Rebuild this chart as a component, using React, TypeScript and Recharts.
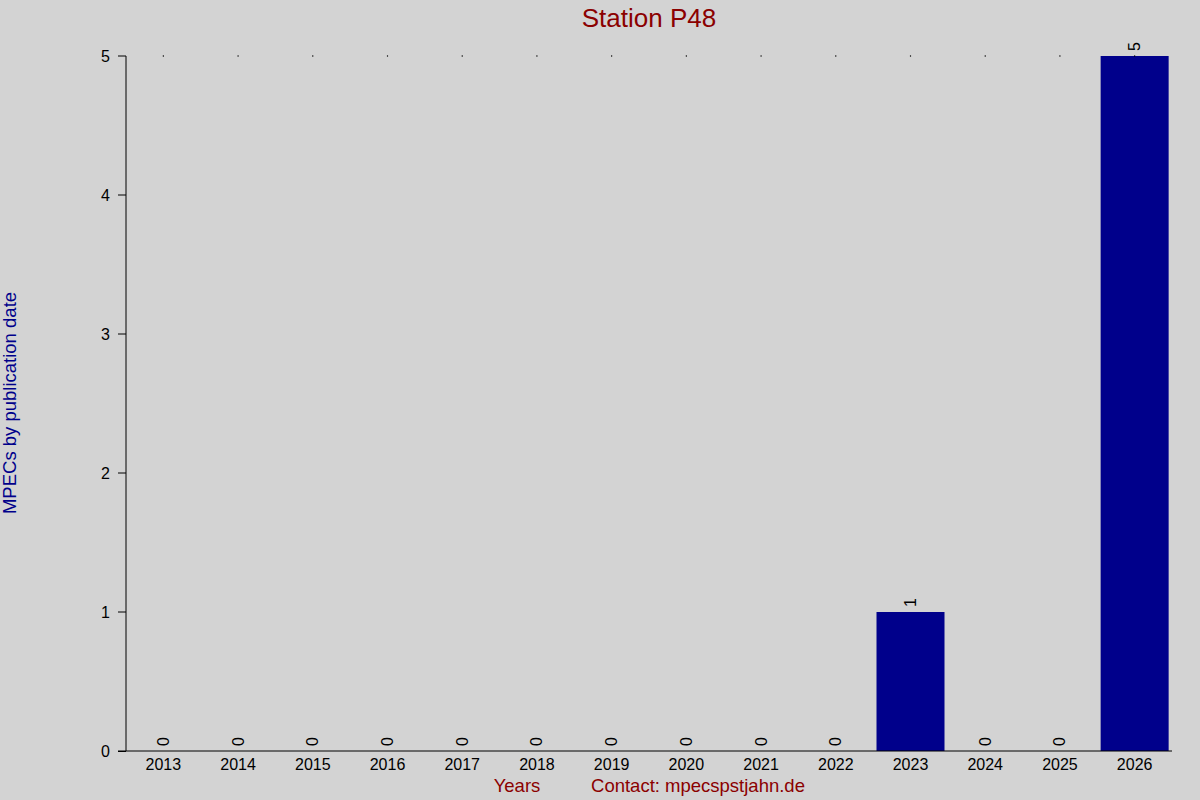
import React from 'react';
import { BarChart, Bar, XAxis, YAxis, ReferenceDot, LabelList } from 'recharts';

const years = ['2013','2014','2015','2016','2017','2018','2019','2020','2021','2022','2023','2024','2025','2026'];
const counts = [0,0,0,0,0,0,0,0,0,0,1,0,0,5];
const yTicks = [0,1,2,3,4,5];

const data = years.map((y, i) => ({ year: y, count: counts[i] }));

const FONT = '"Liberation Sans", Arial, sans-serif';

const ValueLabel = (props: any) => {
  const { x, y, width, height, value } = props;
  const top = Math.min(Number(y), Number(y) + Number(height || 0));
  const cx = Number(x) + Number(width) / 2;
  const ty = top - 5;
  return (
    <text
      x={cx}
      y={ty}
      transform={`rotate(-90 ${cx} ${ty})`}
      textAnchor="start"
      dominantBaseline="central"
      style={{ fontSize: 16, fontFamily: FONT, fill: '#000' }}
    >
      {value}
    </text>
  );
};

export default function App() {
  return (
    <div style={{ position: 'absolute', left: 0, top: 0, width: 1200, height: 800, background: '#D3D3D3', fontFamily: FONT }}>
      <BarChart
        width={1200}
        height={800}
        data={data}
        margin={{ top: 56, right: 28, bottom: 0, left: 0 }}
        barCategoryGap="4.5%"
      >
        <XAxis
          dataKey="year"
          height={49}
          tickLine={false}
          axisLine={{ stroke: '#000', strokeWidth: 1 }}
          tick={{ fill: '#000', fontSize: 16, fontFamily: FONT }}
          tickMargin={2}
        />
        <YAxis
          width={126}
          domain={[0, 5]}
          ticks={yTicks}
          interval={0}
          tickSize={8}
          tickLine={{ stroke: '#000' }}
          axisLine={{ stroke: '#000', strokeWidth: 1 }}
          tick={{ fill: '#000', fontSize: 16, fontFamily: FONT }}
          tickMargin={8}
        />
        {years.map((y) => (
          <ReferenceDot key={y} x={y} y={5} r={0.7} fill="#000" stroke="none" ifOverflow="visible" />
        ))}
        <Bar dataKey="count" fill="#00008B" isAnimationActive={false} minPointSize={0.01}>
          <LabelList dataKey="count" content={<ValueLabel />} />
        </Bar>
      </BarChart>
      <div style={{ position: 'absolute', left: 118, top: 750.5, width: 8, height: 1, background: '#000' }} />
      <div style={{ position: 'absolute', left: 0, width: 1298, top: 3, textAlign: 'center', fontSize: 26, color: '#8B0000' }}>
        Station P48
      </div>
      <div
        style={{
          position: 'absolute',
          left: 10,
          top: 403,
          transform: 'translate(-50%, -50%) rotate(-90deg)',
          whiteSpace: 'nowrap',
          fontSize: 18.5,
          color: '#00008B',
        }}
      >
        MPECs by publication date
      </div>
      <div style={{ position: 'absolute', left: 517, top: 786, transform: 'translate(-50%, -50%)', whiteSpace: 'nowrap', fontSize: 18.5, color: '#8B0000' }}>
        Years
      </div>
      <div style={{ position: 'absolute', left: 698, top: 786, transform: 'translate(-50%, -50%)', whiteSpace: 'nowrap', fontSize: 18.5, color: '#8B0000' }}>
        Contact: mpecspstjahn.de
      </div>
    </div>
  );
}
